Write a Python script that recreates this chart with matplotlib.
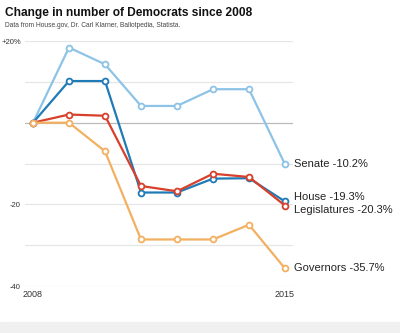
import matplotlib.pyplot as plt

plt.rcParams['font.family'] = ['Liberation Sans', 'DejaVu Sans']

years = [2008, 2009, 2010, 2011, 2012, 2013, 2014, 2015]
senate = [0, 18.4, 14.3, 4.1, 4.1, 8.2, 8.2, -10.2]
house = [0, 10.2, 10.2, -17.1, -17.1, -13.7, -13.6, -19.3]
legislatures = [0, 2.0, 1.7, -15.5, -16.8, -12.5, -13.3, -20.3]
governors = [0, 0, -7.0, -28.6, -28.6, -28.6, -25.0, -35.7]

names = ['Senate', 'House', 'Legislatures', 'Governors']
colors = ['#8cc3e6', '#1f7bb6', '#d8402c', '#f2b061']
label_offsets = [0, 1.2, -1.0, 0]

fig = plt.figure(figsize=(4, 3.33), dpi=100)
ax = fig.add_axes([0.0625, 0.1411, 0.67, 0.7357])

# light band at the bottom, like the screenshot
fig.patches.append(plt.Rectangle((0, 0), 1, 0.033, transform=fig.transFigure,
                                 color='#f0f0f0', zorder=0))

for g in range(-40, 30, 10):
    ax.axhline(g, color='#bbbbbb' if g == 0 else '#e6e6e6', lw=0.9, zorder=1)

series = [senate, house, legislatures, governors]
for name, vals, c, off in zip(names, series, colors, label_offsets):
    ax.plot(years, vals, color=c, lw=1.6, marker='o', ms=4.2, mfc='white',
            mec=c, mew=1.3, zorder=3, clip_on=False)
    ax.text(years[-1] + 0.25, vals[-1] + off, f'{name} {vals[-1]}%',
            fontsize=8, va='center', ha='left', color='#222222')

ax.set_xlim(2008 - 8 / 36, 2015 + 8 / 36)
ax.set_ylim(-40, 20)
ax.set_yticks([-40, -20, 20])
ax.set_yticklabels(['-40', '-20', '+20%'])
ax.set_xticks([2008, 2015])
ax.tick_params(length=0, colors='#333333')
ax.tick_params(axis='x', pad=3, labelsize=6.5)
ax.tick_params(axis='y', pad=3, labelsize=5.5)
for s in ax.spines.values():
    s.set_visible(False)

fig.text(0.012, 0.962, 'Change in number of Democrats since 2008', fontsize=8.6,
         fontweight='bold', va='center', ha='left', color='#111111')
fig.text(0.012, 0.922, 'Data from House.gov, Dr. Carl Klarner, Ballotpedia, Statista.',
         fontsize=4.8, va='center', ha='left', color='#444444')

fig.savefig('out.png', dpi=100)
